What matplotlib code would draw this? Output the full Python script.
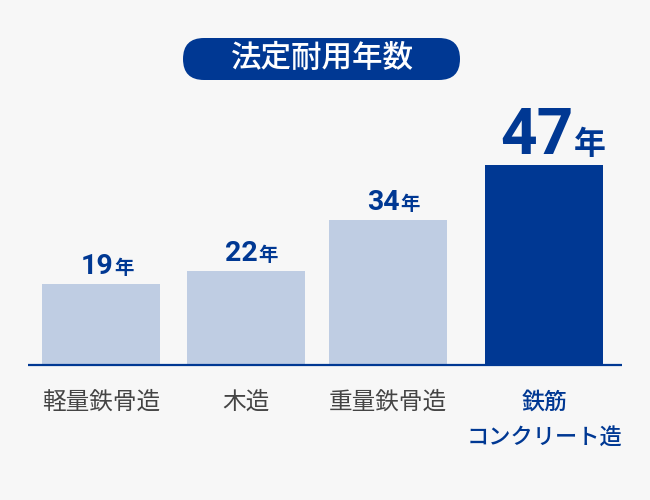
import matplotlib
matplotlib.use("Agg")
import matplotlib.pyplot as plt
from matplotlib.patches import FancyBboxPatch

plt.rcParams['font.family'] = ['Noto Sans CJK JP', 'DejaVu Sans']

categories = ["軽量鉄骨造", "木造", "重量鉄骨造", "鉄筋\nコンクリート造"]
years = [19, 22, 34, 47]
title = "法定耐用年数"

# layout (pixel positions in a 650x500 canvas)
x_pos = [101, 245.5, 387.5, 544]
bar_w = 118
BG = "#f7f7f7"
NAVY = "#003893"
LIGHT = "#bfcde3"
GRAY = "#444444"

fig = plt.figure(figsize=(6.5, 5), dpi=100, facecolor=BG)
# y axis: 0..50 years mapped to 135..348 px from bottom
ax = fig.add_axes([0, 135 / 500, 1, 213 / 500])
ax.set_xlim(0, 650)
ax.set_ylim(0, 50)
ax.axis("off")
ppy = 213 / 50  # pixels per year

colors = [LIGHT, LIGHT, LIGHT, NAVY]
ax.bar(x_pos, years, width=bar_w, color=colors, zorder=2, clip_on=False)
ax.plot([28, 622], [0, 0], color=NAVY, lw=1.6, zorder=3, solid_capstyle="butt", clip_on=False)

# value labels: number + smaller 年, grouped and centred over the bar
fig.canvas.draw()
r = fig.canvas.get_renderer()
for i, (x, v) in enumerate(zip(x_pos, years)):
    big = i == len(years) - 1
    ns, ks = (46, 23) if big else (20.5, 14)
    y = v + (11 if big else 10) / ppy
    tn = ax.text(x, y, str(v), fontsize=ns, fontweight="bold", color=NAVY,
                 family=["Roboto", "DejaVu Sans"],
                 ha="right", va="baseline", clip_on=False)
    tk = ax.text(x, y, "年", fontsize=ks, fontweight="bold", color=NAVY,
                 ha="left", va="baseline", clip_on=False)
    bn = tn.get_window_extent(r)
    bk = tk.get_window_extent(r)
    gap = 1
    total = bn.width + gap + bk.width
    left = x + (9 if big else 6) - total / 2
    tn.set_x(left + bn.width)
    tk.set_x(left + bn.width + gap)

# category labels
for i, (x, c) in enumerate(zip(x_pos, categories)):
    last = i == len(categories) - 1
    lines = c.split("\n")
    fig.text(x / 650, 1 - 402 / 500, lines[0], fontsize=16.5 if last else 17,
             color=NAVY if last else GRAY, fontweight="medium" if last else "normal",
             ha="center", va="center")
    if len(lines) > 1:
        fig.text(x / 650, 1 - 437 / 500, lines[1], fontsize=16,
                 color=NAVY, fontweight="medium", ha="center", va="center")

# title pill
pill = FancyBboxPatch((183, 500 - 80), 277, 42,
                      boxstyle="round,pad=0,rounding_size=21",
                      transform=None, facecolor=NAVY, edgecolor="none")
fig.patches.append(pill)
fig.text(322.5 / 650, 1 - 59 / 500, title, fontsize=22, fontweight="medium",
         color="white", ha="center", va="center")

fig.savefig("out.png", dpi=100, facecolor=BG)
